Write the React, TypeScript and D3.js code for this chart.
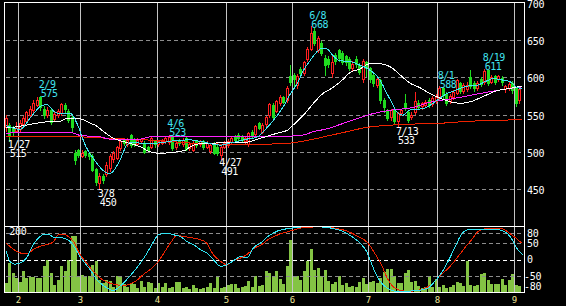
import React from "react";
import * as d3 from "d3";

// ---- categories: trading days per month (2022) ----
const months = [1, 2, 3, 4, 5, 6, 7, 8, 9];
const daysJan = [26, 27, 28, 31];
const daysFeb = [1, 2, 3, 4, 7, 8, 9, 10, 14, 15, 16, 17, 18, 21, 22, 24, 25, 28];
const daysMar = [1, 2, 3, 4, 7, 8, 9, 10, 11, 14, 15, 16, 17, 18, 22, 23, 24, 25, 28, 29, 30, 31];
const daysApr = [1, 4, 5, 6, 7, 8, 11, 12, 13, 14, 15, 18, 19, 20, 21, 22, 25, 26, 27, 28];
const daysMay = [2, 6, 9, 10, 11, 12, 13, 16, 17, 18, 19, 20, 23, 24, 25, 26, 27, 30, 31];
const daysJun = [1, 2, 3, 6, 7, 8, 9, 10, 13, 14, 15, 16, 17, 20, 21, 22, 23, 24, 27, 28, 29, 30];
const daysJul = [1, 4, 5, 6, 7, 8, 11, 12, 13, 14, 15, 19, 20, 21, 22, 25, 26, 27, 28, 29];
const daysAug = [1, 2, 3, 4, 5, 8, 9, 10, 12, 15, 16, 17, 18, 19, 22, 23, 24, 25, 26, 29, 30, 31];
const daysSep = [1, 2];
const daysByMonth = [daysJan, daysFeb, daysMar, daysApr, daysMay, daysJun, daysJul, daysAug, daysSep];

// ---- OHLC ----
const opens = [533,536,532,528,530,537,541,550,556,563,573,558,550,556,544,549,552,563,555,546,498,502,495,501,498,494,477,458,467,470,478,490,492,505,516,511,522,516,511,514,512,506,507,514,510,512,514,513,521,506,515,510,519,505,503,514,510,514,507,501,511,507,496,507,509,513,521,522,521,514,510,527,524,538,527,537,549,563,555,565,573,569,601,603,590,611,605,624,638,662,637,646,626,625,605,630,636,632,628,625,612,625,616,598,620,612,603,590,596,569,556,546,556,541,552,566,553,546,553,566,561,563,570,564,568,572,586,578,568,573,579,592,581,584,600,592,585,598,593,610,594,601,597,599,584,585,592,585,570];
const highs = [549,538,535,540,543,548,555,561,569,573,575,561,560,558,554,558,566,565,557,548,502,504,502,503,500,497,479,471,470,487,497,501,508,518,519,519,524,518,519,519,514,508,521,516,516,517,520,523,522,514,517,518,521,513,515,516,516,516,514,511,513,509,509,514,517,520,523,525,523,520,527,529,536,540,538,548,566,566,570,576,575,588,616,605,604,613,622,640,668,666,655,648,630,628,630,633,638,635,630,627,622,628,619,624,622,614,605,600,598,572,558,558,558,554,558,578,556,553,580,569,567,570,572,575,577,588,587,580,578,583,598,594,592,593,609,595,595,600,611,610,603,603,603,601,590,594,595,587,586];
const lows = [528,515,523,526,528,535,539,547,553,561,556,545,546,537,541,546,550,553,540,528,484,493,493,493,491,474,456,450,458,468,475,486,490,503,509,508,506,508,509,512,498,501,505,507,508,510,512,511,503,504,509,508,502,503,501,506,508,504,505,499,497,496,491,505,507,511,514,515,513,511,508,520,522,530,525,535,547,545,553,563,565,567,590,586,586,603,603,622,636,643,634,630,603,614,600,618,622,617,616,609,609,614,604,594,602,594,588,587,566,553,542,543,539,533,549,556,540,544,551,557,558,560,560,562,565,570,572,563,566,571,577,579,579,581,585,582,583,588,591,590,592,591,595,590,580,583,579,562,566];
const closes = [545,522,527,532,538,545,553,558,566,570,560,549,556,540,551,555,564,557,543,533,489,496,499,496,494,476,459,468,462,483,494,498,506,514,512,516,509,511,516,517,500,503,519,510,514,515,518,520,505,512,512,516,504,511,512,509,514,506,512,509,499,498,507,512,515,518,516,518,516,518,525,523,534,532,536,546,564,547,568,573,567,586,594,597,602,606,620,638,659,646,652,632,616,618,620,622,626,620,620,612,618,617,607,621,612,597,592,597,569,560,545,556,541,552,556,559,543,550,568,560,565,567,563,572,574,586,576,566,575,580,596,582,589,590,588,585,592,591,608,592,600,594,601,593,588,591,583,565,584];
const volumes = [29,89,59,44,32,66,44,47,46,45,44,79,99,59,24,39,79,64,99,170,172,49,54,51,49,84,94,39,29,39,35,18,49,49,25,18,29,25,13,35,18,33,29,13,29,18,29,13,18,31,31,13,18,11,23,13,11,13,18,28,13,49,13,18,23,25,25,13,18,21,35,18,49,
  21,23,66,59,49,66,41,25,81,160,49,51,39,66,96,133,69,74,49,69,35,25,33,49,23,29,18,21,18,33,43,25,33,35,29,45,63,70,71,49,29,29,59,69,33,35,21,15,18,49,18,41,18,23,13,18,23,31,29,21,94,23,21,23,56,59,39,25,25,25,41,23,39,56,23,21];

// ---- moving averages (at candle positions) ----
const maShortIdx = [0,4,6.9,10.3,11.8,14.1,16.1,18.4,20.7,22.7,25.6,28.5,30,32.5,34.8,36.2,40,44.4,48.8,53.1,56,61.9,64.8,69.4,72.5,74.1,76.3,78.2,80.1,82,84,85.7,87.6,89.6,91.2,92.5,94.2,96.2,99.1,102,104,107.8,109.8,111.3,112.7,114.4,116.4,120.2,123.1,125.1,127.1,128.8,132.9,135.8,138.1,140.4,143.3,145.3,147.3,148.8];
const maShortVal = [535,530,545,562,563,553,551,552,535,510,488,473,471,486,509,513,511,512,515,516,514,509,512,517,520,527,538,549,562,578,592,609,622,634,639,638,629,622,621,616,612,596,578,565,553,549,556,558,565,572,578,581,588,589,594,598,596,594,586,585];
const maMidIdx = [0,2.3,8.3,11.2,15.7,17.6,20.4,22.7,24.4,25.6,28.1,31,34.3,38.6,41.5,44.4,47.3,51.6,53.1,56,61.9,69.4,73.2,78.2,81.1,82.8,85.7,88.6,91.3,94.2,97.1,99.1,102,104.9,107.8,110.7,113.6,116.4,119.3,122.2,125.1,128,130.9,133.8,137.5,141.6,145.3,148.8];
const maMidVal = [532,533,538,540,541,545,545,542,538,536,527,518,513,507,500,498,499,502,507,511,512,513,518,525,529,536,549,565,578,586,597,606,611,618,618,614,603,592,586,578,572,567,565,567,574,582,585,588];
const maLongIdx = [0,6.9,18.4,21.3,27.1,30,38.6,41.5,53.1,59.3,77.4,81.5,85.2,88.6,92.7,96.5,100.3,104.8,111.2,116.9,122.7,128.5,134.2,140,145.3,148.8];
const maLongVal = [525,526,526,522,520,517,517,520,521,520,520,521,522,527,531,537,543,550,556,559,567,571,576,581,585,587];
const maXLongIdx = [0,21.3,30,44.4,56,70.3,80,84,88.6,93.4,98.3,104.3,116.4,124.2,133.8,148.8];
const maXLongVal = [521,520,518,515,511,510,511,513,517,522,527,533,537,538,541,543];

// ---- oscillator ----
const oscFastIdx = [0,1.1,2.5,4,5.9,7.8,9.8,11.2,12.2,13.6,15.5,17,18.4,19.8,21.3,22.7,24.2,26.1,28,30,30.9,32.8,35.2,37.6,40,42,43.9,46.3,48.2,50.1,52.1,54,56,57.8,59.7,61.9,63.6,65.5,67.7,69.4,71.3,73.7,75.5,78.4,82.2,86.1,90,93.8,96.7,99.6,102,103.9,105.3,106.7,108.2,110.1,112,114.9,118.8,121.7,123.6,125.5,127.4,129.3,131.2,133.2,137,141.8,143.7,145.6,147.5,148.9];
const oscFastVal = [25,-6,-14,-11,5,45,70,77,77,68,68,63,55,35,9,-11,-31,-61,-79,-91,-94,-81,-56,-26,9,45,75,80,75,70,55,45,30,20,0,-21,-16,-4,9,5,35,53,70,87,95,99,99,95,87,70,50,25,-11,-46,-71,-88,-96,-96,-94,-86,-66,-41,-6,35,75,90,90,90,85,65,30,14];
const oscSlowIdx = [0,2.2,4,5.9,7.8,9.8,11.7,13.6,15,16.5,17.9,19.4,21.3,23.2,25.1,27.1,29,31.4,33.8,35.7,37.6,39.5,42,43.9,45.8,47.7,49.2,51.1,54,56,57.8,59.7,61.9,63.6,65.5,67.7,69.4,71.3,73.7,75.5,78.4,82.2,86.1,90.9,94.7,98.6,101.4,104.3,106.2,108.2,110.1,112,114.9,116.8,119.7,122.6,124.5,126.5,128.4,130.3,132.2,134.2,136.1,138.1,142.8,145.7,148.6];
const oscSlowVal = [50,30,20,17,30,40,45,53,75,77,70,55,15,-11,-36,-56,-68,-76,-79,-74,-64,-46,-26,-6,25,55,73,70,65,60,50,15,-6,-16,-4,5,15,33,45,60,75,87,97,99,95,85,70,50,20,-16,-61,-86,-96,-96,-91,-76,-56,-36,-16,9,35,60,85,93,93,75,50];

// ---- annotations and ticks ----
const peakIdx = [10, 47, 88, 125, 138];
const troughIdx = [1, 27, 62, 113];
const priceTicks = [450, 500, 550, 600, 650, 700];
const oscTicks = [80, 50, 0, -50, -80];
const oscGrid = [80, 50, -50];
const volMaxLabel = "200";

const BG = "#000000";
const GRID = "#8c8c8c";
const VLINE = "#c4c4c4";
const UPC = "#ff1f1f";
const DNC = "#1fdc1f";
const VOLC = "#84c444";
const CYAN = "#40e4f0";
const MAG = "#ff22ff";
const MARED = "#ee2200";
const MONTHC = "#f0e89a";
const FONT = "'DejaVu Sans Mono', monospace";

export default function App() {
  const dates: { m: number; d: number }[] = [];
  const monthStart: { m: number; i: number }[] = [];
  daysByMonth.forEach((ds, k) => {
    if (k > 0) monthStart.push({ m: months[k], i: dates.length });
    ds.forEach((d) => dates.push({ m: months[k], d }));
  });
  const N = closes.length;
  const X0 = 4.43, STEP = 3.4683;
  const x = d3.scaleLinear().domain([0, N]).range([X0, X0 + STEP * N]);
  const cx = (i: number) => x(i + 0.5);
  const yP = d3.scaleLinear().domain([400, 700]).range([226.5, 2.5]);
  const yO = d3.scaleLinear().domain([-100, 100]).range([292.5, 226.5]);
  const yV = d3.scaleLinear().domain([0, 200]).range([292.5, 226.5]);
  const L = 4.5, R = 524.5, T = 2.5, MID = 226.5, B = 292.5;

  const pLine = (idx: number[], val: number[]) =>
    d3.line<number>().x((_, k) => cx(idx[k])).y((v) => yP(v)).curve(d3.curveMonotoneX)(val) || "";
  const oLine = (idx: number[], val: number[]) =>
    d3.line<number>().x((_, k) => cx(idx[k])).y((v) => yO(v)).curve(d3.curveMonotoneX)(val) || "";
  const dl = (i: number) => `${dates[i].m}/${dates[i].d}`;

  return (
    <div style={{ position: "fixed", left: 0, top: 0, width: 566, height: 306, background: BG }}>
      <svg width={566} height={306} style={{ display: "block" }}>
        <rect x={0} y={0} width={566} height={306} fill={BG} />
        {/* price grid */}
        <g stroke={GRID} strokeDasharray="4,3" shapeRendering="crispEdges">
          {priceTicks.filter((t) => t < 700).map((t) => (
            <line key={t} x1={L + 1} x2={R - 1} y1={Math.round(yP(t)) + 0.5} y2={Math.round(yP(t)) + 0.5} />
          ))}
        </g>
        {/* month lines */}
        <g stroke={VLINE} shapeRendering="crispEdges">
          {monthStart.map((s) => (
            <line key={s.m} x1={Math.floor(x(s.i)) + 0.5} x2={Math.floor(x(s.i)) + 0.5} y1={T} y2={B} />
          ))}
        </g>
        {/* candles */}
        <g shapeRendering="crispEdges">
          {closes.map((c, i) => {
            const o = opens[i];
            const left = Math.round(cx(i) - 1.5);
            const wx = left + 1.5;
            const top = Math.round(yP(Math.max(o, c)));
            const bot = Math.round(yP(Math.min(o, c)));
            const yh = Math.round(yP(highs[i]));
            const yl = Math.round(yP(lows[i]));
            if (c >= o) {
              return (
                <g key={i} stroke={UPC}>
                  <line x1={wx} x2={wx} y1={yh} y2={top} />
                  <line x1={wx} x2={wx} y1={bot + 1} y2={yl + 1} />
                  <rect x={left + 0.5} y={top + 0.5} width={2} height={Math.max(bot - top, 1)} fill={BG} />
                </g>
              );
            }
            return (
              <g key={i}>
                <line x1={wx} x2={wx} y1={yh} y2={yl + 1} stroke={DNC} />
                <rect x={left} y={top} width={3} height={Math.max(bot - top + 1, 1)} fill={DNC} />
              </g>
            );
          })}
        </g>
        {/* moving averages */}
        <g fill="none" strokeWidth={1} shapeRendering="crispEdges">
          <path d={pLine(maXLongIdx, maXLongVal)} stroke={MARED} />
          <path d={pLine(maLongIdx, maLongVal)} stroke={MAG} />
          <path d={pLine(maMidIdx, maMidVal)} stroke="#ffffff" />
          <path d={pLine(maShortIdx, maShortVal)} stroke={CYAN} />
        </g>
        {/* annotations: date and price in one text block */}
        <g fontFamily={FONT} fontSize={10} letterSpacing={-0.5}>
          {peakIdx.map((i) => (
            <text key={"p" + i} fill={CYAN} y={yP(highs[i]) - 7.5}>
              <tspan x={cx(i) - 2}>{dl(i)}</tspan>
              <tspan x={cx(i)} dy={9}>{highs[i]}</tspan>
            </text>
          ))}
          {troughIdx.map((i) => (
            <text key={"t" + i} fill="#ffffff" y={yP(lows[i]) + 7.5}>
              <tspan x={cx(i) - 2}>{dl(i)}</tspan>
              <tspan x={cx(i)} dy={9}>{lows[i]}</tspan>
            </text>
          ))}
        </g>
        {/* volume */}
        <g fill={VOLC} shapeRendering="crispEdges">
          {volumes.map((v, i) => {
            const left = Math.round(cx(i) - 1.5);
            const top = Math.round(yV(v));
            return <rect key={i} x={left} y={top} width={3} height={Math.max(B - top, 0)} />;
          })}
        </g>
        {/* oscillator grid */}
        <g strokeDasharray="4,3" shapeRendering="crispEdges">
          {oscGrid.map((t) => (
            <line key={t} x1={L + 1} x2={R - 1} y1={Math.round(yO(t)) + 0.5} y2={Math.round(yO(t)) + 0.5} stroke={GRID} />
          ))}
          <line x1={L + 1} x2={R - 1} y1={Math.round(yO(0)) + 0.5} y2={Math.round(yO(0)) + 0.5} stroke="#ffffff" />
        </g>
        {/* month lines over lower panel bars */}
        <g stroke={VLINE} shapeRendering="crispEdges">
          {monthStart.map((s) => (
            <line key={s.m} x1={Math.floor(x(s.i)) + 0.5} x2={Math.floor(x(s.i)) + 0.5} y1={MID} y2={B} />
          ))}
        </g>
        <g fill="none" strokeWidth={1} shapeRendering="crispEdges">
          <path d={oLine(oscSlowIdx, oscSlowVal)} stroke={MARED} />
          <path d={oLine(oscFastIdx, oscFastVal)} stroke="#30e4f4" />
        </g>
        {/* frames */}
        <g stroke="#ffffff" fill="none" shapeRendering="crispEdges">
          <rect x={L} y={T} width={R - L} height={B - T} />
          <line x1={L} x2={R} y1={MID} y2={MID} />
        </g>
        {/* axis labels */}
        <g fontFamily={FONT} fontSize={10} fill="#ffffff" letterSpacing={-0.3}>
          {priceTicks.map((t) => (
            <text key={t} x={527} y={yP(t) + 5.3}>{t}</text>
          ))}
          {oscTicks.map((t) => (
            <text key={t} x={t < 0 ? 524 : 527} y={yO(t) + 3.6}>{t}</text>
          ))}
          <text x={9.3} y={235}>{volMaxLabel}</text>
        </g>
        <g fontFamily={FONT} fontSize={9} fill={MONTHC} textAnchor="middle">
          {monthStart.map((s) => (
            <text key={s.m} x={Math.floor(x(s.i)) + 0.5} y={302.5}>{s.m}</text>
          ))}
        </g>
      </svg>
    </div>
  );
}
